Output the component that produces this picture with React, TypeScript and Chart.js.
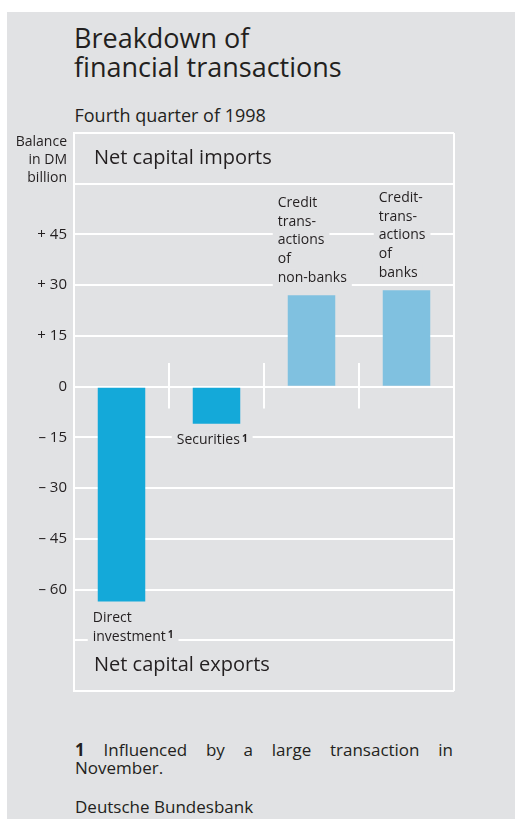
import React, { useEffect, useRef } from "react";
import { Chart, registerables } from "chart.js";

Chart.register(...registerables);

const categories = [
  "Direct investment",
  "Securities",
  "Credit transactions of non-banks",
  "Credit transactions of banks",
];
const balances = [-63.5, -11, 27, 28.5];
const barColors = ["#14a9d9", "#14a9d9", "#80c1e0", "#80c1e0"];
const barLabelLines = [
  ["Direct", "investment"],
  ["Securities"],
  ["Credit", "trans-", "actions", "of", "non-banks"],
  ["Credit-", "trans-", "actions", "of", "banks"],
];
const footnoteFlags = [true, true, false, false];
const labelDx = [-5, -16, -10, -4];
const yTickValues = [45, 30, 15, 0, -15, -30, -45, -60];
const yTickLabels = ["+ 45", "+ 30", "+ 15", "0", "– 15", "– 30", "– 45", "– 60"];
const axisTitleLines = ["Balance", "in DM", "billion"];
const regionLabels = ["Net capital imports", "Net capital exports"];

const FONT = "'Open Sans', 'DejaVu Sans', sans-serif";
const TEXT = "#231f20";
const BG = "#e1e2e4";

const annotations = {
  id: "annotations",
  afterDatasetsDraw(chart: any) {
    const { ctx, chartArea: ca, scales } = chart;
    const y = scales.y;
    ctx.save();
    // right frame
    ctx.strokeStyle = "#ffffff";
    ctx.lineWidth = 2;
    ctx.beginPath();
    ctx.moveTo(ca.right, ca.top);
    ctx.lineTo(ca.right, ca.bottom);
    ctx.stroke();
    // category separators
    const cw = (ca.right - ca.left) / categories.length;
    ctx.beginPath();
    for (let k = 1; k < categories.length; k++) {
      const px = Math.round(ca.left + k * cw);
      ctx.moveTo(px, y.getPixelForValue(7));
      ctx.lineTo(px, y.getPixelForValue(-6.5));
    }
    ctx.stroke();

    // region labels
    ctx.fillStyle = TEXT;
    ctx.textAlign = "left";
    ctx.textBaseline = "middle";
    ctx.font = `20px ${FONT}`;
    ctx.fillText(regionLabels[0], ca.left + 20, (y.getPixelForValue(75) + y.getPixelForValue(60)) / 2);
    ctx.fillText(regionLabels[1], ca.left + 20, (y.getPixelForValue(-75) + y.getPixelForValue(-90)) / 2);

    // axis title
    ctx.font = `14px ${FONT}`;
    ctx.textAlign = "right";
    axisTitleLines.forEach((ln, i) => {
      ctx.fillText(ln, ca.left - 7, ca.top + 9 + i * 18);
    });

    // bar labels
    const meta = chart.getDatasetMeta(0);
    const lh = 18.7;
    meta.data.forEach((bar: any, i: number) => {
      const p = bar.getProps(["x", "y", "width"], true);
      const left = p.x - p.width / 2 + labelDx[i];
      const lines = barLabelLines[i];
      const firstCenter =
        balances[i] < 0 ? p.y + 16.5 : p.y - 17.5 - (lines.length - 1) * lh;
      lines.forEach((ln, j) => {
        const cy = firstCenter + j * lh;
        ctx.font = `14px ${FONT}`;
        const w = ctx.measureText(ln).width;
        let fw = 0;
        const hasFn = footnoteFlags[i] && j === lines.length - 1;
        if (hasFn) {
          ctx.font = `bold 10px ${FONT}`;
          fw = ctx.measureText("1").width + 2;
        }
        ctx.fillStyle = BG;
        ctx.fillRect(left - 5, cy - 9.5, w + fw + 10, 19);
        ctx.fillStyle = TEXT;
        ctx.textAlign = "left";
        ctx.textBaseline = "middle";
        ctx.font = `14px ${FONT}`;
        ctx.fillText(ln, left, cy);
        if (hasFn) {
          ctx.font = `bold 10px ${FONT}`;
          ctx.fillText("1", left + w + 2, cy - 1);
        }
      });
    });
    ctx.restore();
  },
};

function BarChart() {
  const ref = useRef<HTMLCanvasElement>(null);
  useEffect(() => {
    if (!ref.current) return;
    const chart = new Chart(ref.current, {
      type: "bar",
      data: {
        labels: categories,
        datasets: [
          {
            data: balances,
            backgroundColor: barColors,
            borderWidth: 0,
            barPercentage: 0.5,
            categoryPercentage: 1,
          },
        ],
      },
      options: {
        responsive: false,
        animation: false,
        layout: { padding: { top: 8, bottom: 9, left: 0, right: 61 } },
        plugins: {
          legend: { display: false },
          tooltip: { enabled: false },
        },
        scales: {
          x: { display: false, offset: true },
          y: {
            min: -90,
            max: 75,
            afterFit(s: any) {
              s.width = 67;
              s.paddingTop = 0;
              s.paddingBottom = 0;
            },
            border: { display: true, color: "#ffffff", width: 2 },
            grid: { color: "#ffffff", lineWidth: 2, drawTicks: false },
            ticks: {
              stepSize: 15,
              padding: 7,
              color: TEXT,
              font: { family: FONT, size: 15 },
              callback(v: any) {
                const i = yTickValues.indexOf(Number(v));
                return i >= 0 ? yTickLabels[i] : "";
              },
            },
          },
        },
      } as any,
      plugins: [annotations],
    });
    return () => chart.destroy();
  }, []);
  return (
    <canvas
      ref={ref}
      width={508}
      height={575}
      style={{ position: "absolute", left: 0, top: 113, width: 508, height: 575 }}
    />
  );
}

export default function App() {
  return (
    <div
      style={{
        position: "absolute",
        left: 7,
        top: 12,
        width: 508,
        height: 807,
        background: BG,
        fontFamily: FONT,
        color: TEXT,
      }}
    >
      <div style={{ position: "absolute", left: 67, top: 10.7, fontSize: 27, lineHeight: "29px", whiteSpace: "nowrap" }}>
        Breakdown of
        <br />
        financial transactions
      </div>
      <div style={{ position: "absolute", left: 67.5, top: 91.7, fontSize: 18, lineHeight: "22px", whiteSpace: "nowrap" }}>
        Fourth quarter of 1998
      </div>
      <BarChart />
      <div
        style={{
          position: "absolute",
          left: 68,
          top: 729,
          width: 378,
          fontSize: 17,
          lineHeight: "18px",
          textAlign: "justify",
        }}
      >
        <b>1</b> Influenced by a large transaction in November.
      </div>
      <div style={{ position: "absolute", left: 68, top: 786, fontSize: 17, lineHeight: "18px", whiteSpace: "nowrap" }}>
        Deutsche Bundesbank
      </div>
    </div>
  );
}
